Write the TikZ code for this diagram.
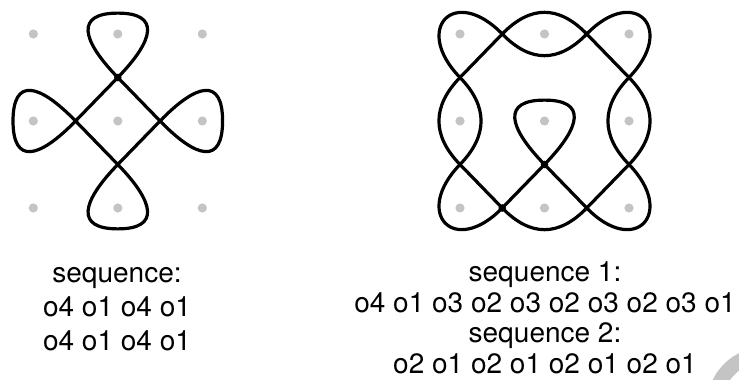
\documentclass[tikz,border=0pt]{standalone}
\usepackage{fontspec}
\setmainfont{TeX Gyre Heros}
\definecolor{dotgrey}{gray}{0.77}
\begin{document}
\begin{tikzpicture}[x=0.5pt, y=0.5pt,
    every node/.style={font=\fontsize{14}{16}\selectfont, inner sep=0pt, anchor=base},
    strand/.style={line width=1.6pt, line join=round}]
  \useasboundingbox (0,0) rectangle (739,380);
  % left kolam: diamond with four loops
  \begin{scope}[shift={(33.3,172)}, x=42.25pt, y=43.5pt]
    \foreach \i in {0,1,2} \foreach \j in {0,1,2}
      \fill[dotgrey] (\i,\j) circle[radius=2.3pt];
    \coordinate (lt) at (1,1.5); \coordinate (lr) at (1.5,1);
    \coordinate (lb) at (1,0.5); \coordinate (ll) at (0.5,1);
    \draw[strand] (lt) .. controls +(45:0.62) and +(0.5,0) .. (1,2.24)
        .. controls +(-0.5,0) and +(135:0.62) .. (lt) -- (lr)
        .. controls +(-45:0.62) and +(0,-0.5) .. (2.24,1)
        .. controls +(0,0.5) and +(45:0.62) .. (lr) -- (lb)
        .. controls +(-135:0.62) and +(-0.5,0) .. (1,-0.24)
        .. controls +(0.5,0) and +(-45:0.62) .. (lb) -- (ll)
        .. controls +(135:0.62) and +(0,0.5) .. (-0.24,1)
        .. controls +(0,-0.5) and +(-135:0.62) .. (ll) -- cycle;
    \fill (lt) circle[radius=1.9pt];
  \end{scope}
  % right kolam: two strands
  \begin{scope}[shift={(460,172)}, x=42.25pt, y=43.5pt]
    \foreach \i in {0,1,2} \foreach \j in {0,1,2}
      \fill[dotgrey] (\i,\j) circle[radius=2.3pt];
    \coordinate (ra) at (0.5,2); \coordinate (rb) at (1.5,2);
    \coordinate (rc) at (2,1.5); \coordinate (rd) at (2,0.5);
    \coordinate (re) at (1.5,0); \coordinate (rf) at (0.5,0);
    \coordinate (rg) at (0,0.5); \coordinate (rh) at (0,1.5);
    \coordinate (rk) at (1,0.5);
    % sequence 1
    \draw[strand] (rk) .. controls +(135:0.62) and +(-0.5,0) .. (1,1.24)
        .. controls +(0.5,0) and +(45:0.62) .. (rk) -- (rf)
        .. controls +(-135:0.8) and +(-135:0.8) .. (rg)
        .. controls +(45:0.47) and +(-45:0.47) .. (rh)
        .. controls +(135:0.8) and +(135:0.8) .. (ra)
        .. controls +(-45:0.47) and +(-135:0.47) .. (rb)
        .. controls +(45:0.8) and +(45:0.8) .. (rc)
        .. controls +(-135:0.47) and +(135:0.47) .. (rd)
        .. controls +(-45:0.8) and +(-45:0.8) .. (re) -- cycle;
    % sequence 2
    \draw[strand] (rf) .. controls +(-45:0.47) and +(-135:0.47) .. (re) -- (rd)
        .. controls +(45:0.47) and +(-45:0.47) .. (rc) -- (rb)
        .. controls +(135:0.47) and +(45:0.47) .. (ra) -- (rh)
        .. controls +(-135:0.47) and +(135:0.47) .. (rg) -- cycle;
    \fill (rf) circle[radius=1.9pt];
    \fill (rk) circle[radius=1.9pt];
  \end{scope}
  % captions
  \foreach \y/\t [count=\n] in {97/sequence:, 63/o4 o1 o4 o1, 29/o4 o1 o4 o1}
    \node (lseq\n) at (117,\y) {\t};
  \foreach \y/\t [count=\n] in {98/sequence 1:, 67/o4 o1 o3 o2 o3 o2 o3 o2 o3 o1,
      37/sequence 2:, 6/o2 o1 o2 o1 o2 o1 o2 o1}
    \node (rseq\n) at (545,\y) {\t};
  % grey curl in the corner
  \begin{scope}
    \clip (0,0) rectangle (739,380);
    \draw[dotgrey, line width=7.5pt] (765,-25) circle[radius=25.25pt];
  \end{scope}
\end{tikzpicture}
\end{document}
